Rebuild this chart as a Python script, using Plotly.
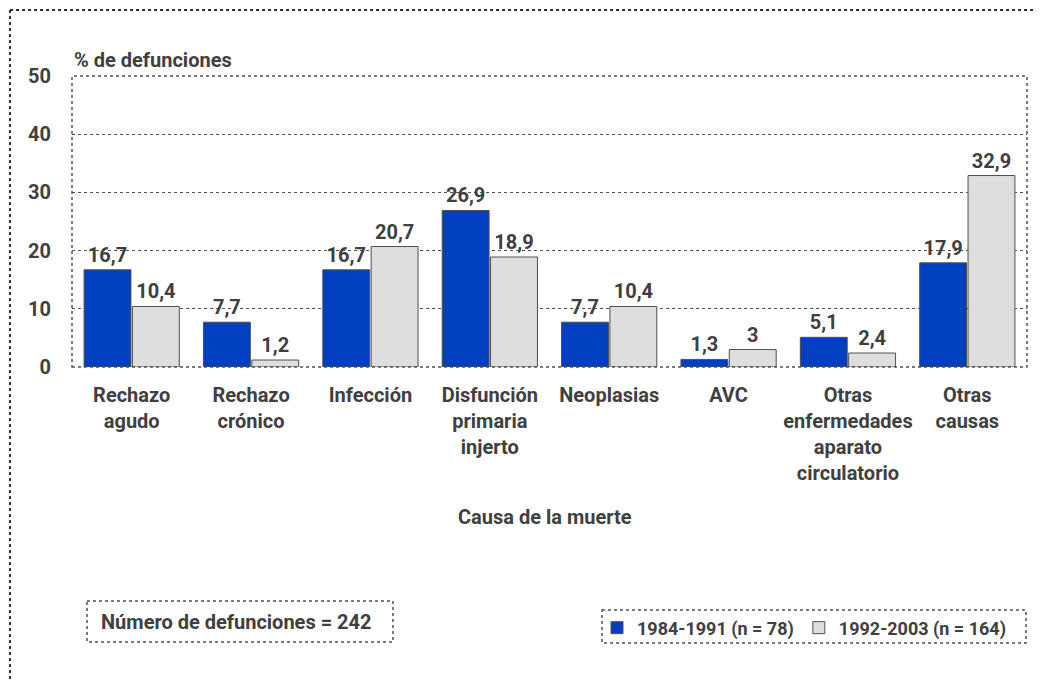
import plotly.graph_objects as go

categories = ["Rechazo<br>agudo", "Rechazo<br>crónico", "Infección", "Disfunción<br>primaria<br>injerto",
              "Neoplasias", "AVC", "Otras<br>enfermedades<br>aparato<br>circulatorio", "Otras<br>causas"]
series_1984 = [16.7, 7.7, 16.7, 26.9, 7.7, 1.3, 5.1, 17.9]
series_1992 = [10.4, 1.2, 20.7, 18.9, 10.4, 3, 2.4, 32.9]
name_1984 = "1984-1991 (n = 78)"
name_1992 = "1992-2003 (n = 164)"
y_ticks = [0, 10, 20, 30, 40, 50]

FONT = "Roboto, Liberation Sans, Arial, sans-serif"
TXT = "#404040"
LINE = "#505050"

# figure is placed at an 8px page offset; sizes compensate for it
W, H = 1027, 671
L, T, B, R = 64, 68, 312, 8
PW, PH = W - L - R, H - T - B


def px(xp):
    return (xp - 8 - L) / PW


def py(yp):
    return (H - B - (yp - 8)) / PH


fig = go.Figure()
fig.add_trace(go.Bar(x=categories, y=series_1984, name=name_1984,
                     marker=dict(color="#0040C0", line=dict(color=LINE, width=1)),
                     texttemplate="%{y}", textposition="outside", cliponaxis=False,
                     textfont=dict(size=20, color=TXT, family=FONT, weight="bold")))
fig.add_trace(go.Bar(x=categories, y=series_1992, name=name_1992,
                     marker=dict(color="#DEDEDE", line=dict(color=LINE, width=1)),
                     texttemplate="%{y}", textposition="outside", cliponaxis=False,
                     textfont=dict(size=20, color=TXT, family=FONT, weight="bold")))

fig.update_layout(
    width=W, height=H,
    margin=dict(l=L, r=R, t=T, b=B),
    paper_bgcolor="white", plot_bgcolor="white",
    separators=", ",
    barmode="group", bargap=0.19, bargroupgap=0.03,
    font=dict(family=FONT, size=19, color=TXT, weight="bold"),
    showlegend=True,
    legend=dict(orientation="h", x=px(597), y=py(628), xanchor="left", yanchor="middle",
                font=dict(size=18, color=TXT, family=FONT, weight="bold"),
                bgcolor="rgba(0,0,0,0)", itemwidth=30, traceorder="normal"),
    xaxis=dict(showgrid=False, ticks="", ticklabelstandoff=14,
               tickfont=dict(size=20, family=FONT, color=TXT, weight="bold")),
    yaxis=dict(range=[0, 50], tickvals=y_ticks, showgrid=True, gridcolor=LINE, griddash="dot",
               gridwidth=1, zeroline=False, ticks="", ticklabelstandoff=20,
               tickfont=dict(size=20, family=FONT, color=TXT, weight="bold")),
)

# plot area dotted border
fig.add_shape(type="rect", xref="paper", yref="paper", x0=0, x1=1, y0=0, y1=1,
              line=dict(color=LINE, width=1.5, dash="dot"), layer="above")
# outer frame (left and top visible)
fig.add_shape(type="line", xref="paper", yref="paper", x0=px(10), x1=px(10), y0=py(10), y1=py(720),
              line=dict(color="#303030", width=2, dash="dot"))
fig.add_shape(type="line", xref="paper", yref="paper", x0=px(10), x1=px(1060), y0=py(10), y1=py(10),
              line=dict(color="#303030", width=2, dash="dot"))

fig.add_annotation(text="% de defunciones", xref="paper", yref="paper", x=px(72), y=py(60),
                   xanchor="left", yanchor="middle", showarrow=False,
                   font=dict(size=20, family=FONT, color=TXT, weight="bold"))
fig.add_annotation(text="Causa de la muerte", xref="paper", yref="paper", x=px(545), y=py(517),
                   xanchor="center", yanchor="middle", showarrow=False,
                   font=dict(size=20, family=FONT, color=TXT, weight="bold"))

# Numero de defunciones box
fig.add_shape(type="rect", xref="paper", yref="paper", x0=px(87), x1=px(393), y0=py(601), y1=py(642),
              line=dict(color=LINE, width=1.5, dash="dot"))
fig.add_annotation(text="Número de defunciones = 242", xref="paper", yref="paper", x=px(236), y=py(622),
                   xanchor="center", yanchor="middle", showarrow=False,
                   font=dict(size=20, family=FONT, color=TXT, weight="bold"))
# legend box
fig.add_shape(type="rect", xref="paper", yref="paper", x0=px(602), x1=px(1026), y0=py(610), y1=py(643),
              line=dict(color=LINE, width=1.5, dash="dot"))

fig.write_html("out.html")
